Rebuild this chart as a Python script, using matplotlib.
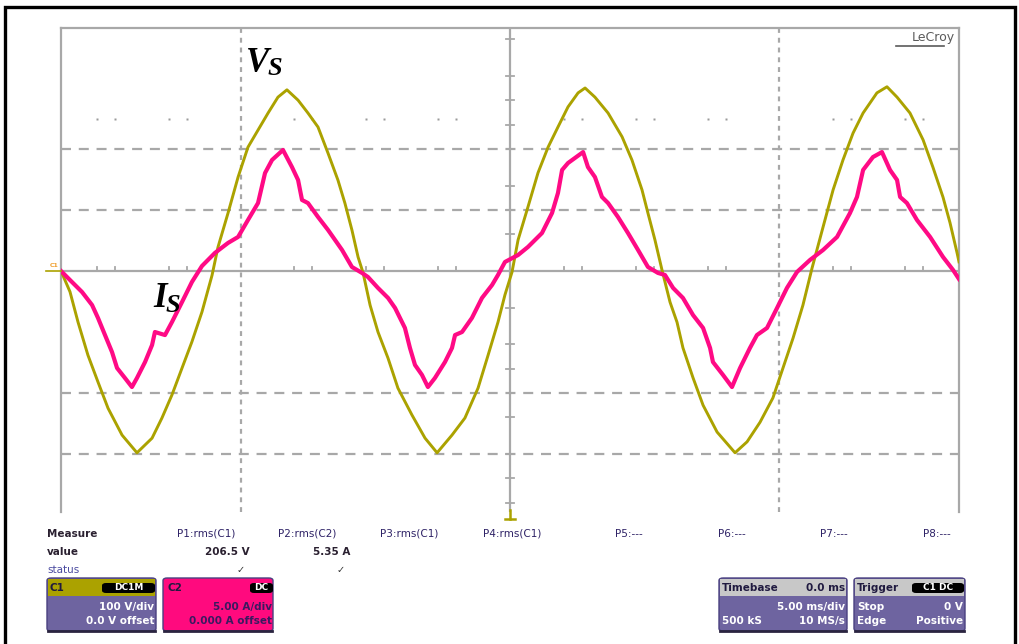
import matplotlib
matplotlib.use("Agg")
import matplotlib.pyplot as plt
from matplotlib.patches import Rectangle, FancyBboxPatch
from matplotlib.lines import Line2D

W, H = 1019, 644

# ---------------- scope settings ----------------
volts_per_div = 100.0
amps_per_div = 5.0
ms_per_div = 5.0

# ---------------- C1 : source voltage Vs ----------------
vs_time_ms = [0.0, 0.50, 0.95, 1.50, 2.06, 2.62, 3.40, 4.23, 5.07, 5.62, 6.18, 6.74, 7.29, 7.85,
              8.41, 8.74, 9.30, 9.86, 10.41, 10.97, 11.53, 12.08, 12.58, 13.20, 13.75, 14.31,
              14.87, 15.42, 15.81, 16.20, 16.54, 16.82, 17.21, 17.65, 18.21, 18.76, 19.54,
              20.27, 20.94, 21.77, 22.49, 23.22, 23.78, 24.33, 24.72, 25.11, 25.45, 26.00,
              26.56, 27.12, 27.67, 28.23, 28.79, 29.18, 29.73, 30.46, 31.24, 31.79, 32.35,
              32.68, 33.07, 33.46, 33.91, 34.30, 34.63, 35.19, 35.75, 36.53, 37.53, 38.20,
              38.92, 39.64, 40.20, 40.76, 41.31, 41.82, 42.43, 42.99, 43.54, 44.10, 44.66,
              45.43, 45.99, 46.55, 47.27, 48.00, 48.55, 49.11, 49.50, 49.89, 50.0]
vs_volts = [0, -34, -84, -138, -182, -225, -269, -298, -274, -241, -203, -159, -116, -67,
            -7, 39, 95, 154, 203, 231, 259, 285, 297, 280, 259, 236,
            193, 149, 111, 67, 23, -3, -56, -100, -143, -192, -236,
            -274, -298, -269, -241, -192, -138, -84, -39, -2, 51, 105,
            161, 203, 236, 269, 292, 300, 285, 259, 220, 182, 133,
            95, 51, 2, -51, -84, -126, -175, -220, -264, -298, -280,
            -248, -208, -159, -110, -56, 5, 72, 133, 182, 226, 259,
            292, 302, 285, 259, 215, 170, 121, 79, 30, 15]

# ---------------- C2 : source current Is ----------------
is_time_ms = [0.0, 0.61, 1.17, 1.73, 2.06, 2.45, 2.84, 3.12, 3.56, 3.95, 4.23, 4.68, 5.07, 5.23,
              5.79, 6.18, 6.74, 7.29, 7.85, 8.57, 9.30, 9.86, 10.41, 10.97, 11.36, 11.75,
              12.36, 12.86, 13.20, 13.42, 13.75, 14.31, 14.87, 15.65, 16.20, 16.76, 17.09,
              17.65, 18.21, 18.60, 19.15, 19.43, 19.71, 20.10, 20.43, 20.82, 21.38, 21.77,
              21.94, 22.33, 22.88, 23.44, 24.00, 24.33, 24.72, 25.45, 26.00, 26.78, 27.34,
              27.67, 27.90, 28.23, 29.07, 29.34, 29.73, 30.12, 30.46, 31.01, 31.57, 32.13,
              32.68, 33.24, 33.63, 34.08, 34.63, 35.19, 35.75, 36.14, 36.30, 36.86, 37.36,
              37.81, 38.36, 38.75, 39.31, 39.87, 40.42, 40.98, 41.70, 42.43, 43.21, 43.93,
              44.32, 44.66, 45.21, 45.71, 46.16, 46.55, 46.72, 47.10, 47.66, 48.39, 49.11,
              49.67, 50.0]
is_amps = [0.0, -0.90, -1.72, -2.79, -3.85, -5.25, -6.64, -7.95, -8.77, -9.51, -8.77, -7.46, -6.07, -5.00,
           -5.25, -4.18, -2.54, -0.90, 0.41, 1.48, 2.30, 2.79, 4.18, 5.57, 8.03, 9.10,
           9.92, 8.52, 7.46, 5.82, 5.57, 4.43, 3.36, 1.72, 0.33, -0.16, -0.49,
           -1.39, -2.21, -3.03, -4.67, -6.31, -7.70, -8.52, -9.51, -8.77, -7.46, -6.31,
           -5.25, -5.00, -3.85, -2.21, -1.15, -0.33, 0.74, 1.31, 1.97, 3.11, 4.75,
           6.39, 8.28, 8.85, 9.75, 8.52, 7.70, 6.07, 5.57, 4.43, 3.11, 1.72,
           0.33, -0.16, -0.33, -1.39, -2.21, -3.61, -4.67, -6.31, -7.46, -8.52, -9.51,
           -7.95, -6.31, -5.25, -4.67, -3.03, -1.39, -0.08, 0.90, 1.72, 2.79, 4.75,
           6.07, 8.28, 9.34, 9.75, 8.28, 7.46, 6.07, 5.57, 4.18, 2.79, 1.15,
           0.08, -0.66]

# ---------------- measurement table ----------------
measure_headers = ["P1:rms(C1)", "P2:rms(C2)", "P3:rms(C1)", "P4:rms(C1)",
                   "P5:---", "P6:---", "P7:---", "P8:---"]
measure_values = ["206.5 V", "5.35 A", "", "", "", "", "", ""]
measure_status = ["\u2713", "\u2713", "", "", "", "", "", ""]

# grid minor marks (in divisions) as they appear on the screen
hmark_x = [0.4, 0.6, 1.2, 1.4, 2.6, 2.8, 3.4, 3.6, 4.2, 4.4,
           5.6, 5.8, 6.4, 6.6, 7.2, 7.4, 8.6, 8.8, 9.4, 9.6]
vmark_y = [0.6, 1.0, 1.4, 2.4, 2.8, 3.2, 3.8,
           -0.6, -1.2, -1.6, -2.4, -3.0, -3.4, -3.8]

OLIVE = "#ABA200"
MAGENTA = "#FF0A85"
GRID = "#A8A8A8"
PURPLE = "#6E64A0"
STRIP = "#C8C8C8"


def fx(x):
    return x / W


def fy(y):
    return 1 - y / H


fig = plt.figure(figsize=(W / 100, H / 100), dpi=100)
fig.patch.set_facecolor("white")

# outer black frame
fig.patches.append(Rectangle((fx(5), fy(652)), fx(1015) - fx(5), fy(7) - fy(652),
                             transform=fig.transFigure, fill=False, edgecolor="black",
                             lw=2.4, zorder=10))

# scope grid axes (in divisions)
y_top = (271 - 28) / 61.0
y_bot = -(512 - 271) / 61.0
ax = fig.add_axes([fx(61), fy(512), fx(959) - fx(61), fy(28) - fy(512)])
ax.set_xlim(0, 10)
ax.set_ylim(y_bot, y_top)
ax.set_xticks([])
ax.set_yticks([])
for side in ["left", "right", "top"]:
    ax.spines[side].set_color(GRID)
    ax.spines[side].set_linewidth(1.6)
ax.spines["bottom"].set_visible(False)
ax.patch.set_alpha(0)

# centre lines
ax.axhline(0, color=GRID, lw=1.6, zorder=1)
ax.axvline(5, color=GRID, lw=1.6, zorder=1)
# dashed horizontal
for yy in [2, 1, -2, -3]:
    ax.axhline(yy, color=GRID, lw=1.6, ls=(0, (4.5, 3.5)), zorder=1)
# dashed vertical
for xx in [2, 8]:
    ax.axvline(xx, color=GRID, lw=1.6, ls=(0, (2.2, 2.2)), zorder=1)
# dotted row
ax.plot(hmark_x, [2.5] * len(hmark_x), ls="none", marker="s", ms=2.0, color="#9a9a9a",
        mec="none", zorder=1)
# ticks on centre lines
for xx in hmark_x:
    ax.plot([xx, xx], [0, 0.06], color=GRID, lw=1.3, zorder=1)
for yy in vmark_y:
    ax.plot([4.96, 5.04], [yy, yy], color=GRID, lw=1.3, zorder=1)

# traces
ax.plot([t / ms_per_div for t in vs_time_ms], [v / volts_per_div for v in vs_volts],
        color=OLIVE, lw=2.1, zorder=3, solid_joinstyle="round")
ax.plot([t / ms_per_div for t in is_time_ms], [i / amps_per_div for i in is_amps],
        color=MAGENTA, lw=3.0, zorder=4, solid_joinstyle="round")

# LeCroy logo
fig.text(fx(955), fy(38), "LeCroy", fontsize=9, color="#5a5a5a", ha="right", va="center",
         family="DejaVu Sans")
fig.add_artist(Line2D([fx(896), fx(944)], [fy(46), fy(46)], transform=fig.transFigure,
                      color="#5a5a5a", lw=1.2))

# channel marker at left of centre line
fig.text(fx(54), fy(265), "C1", fontsize=4.5, color="#F0A030", ha="center", va="center",
         weight="bold")
fig.add_artist(Line2D([fx(46), fx(61)], [fy(271), fy(271)], transform=fig.transFigure,
                      color=OLIVE, lw=1.2))
# trigger position marker
fig.add_artist(Line2D([fx(510), fx(510)], [fy(510), fy(519)], transform=fig.transFigure,
                      color=OLIVE, lw=1.8))
fig.add_artist(Line2D([fx(505), fx(515)], [fy(519), fy(519)], transform=fig.transFigure,
                      color=OLIVE, lw=1.8))

# trace labels
serif = "Liberation Serif"
fig.text(fx(246), fy(72), "V", fontsize=25, style="italic", weight="bold", family=serif,
         color="black", va="baseline")
fig.text(fx(268), fy(75), "S", fontsize=19, style="italic", weight="bold", family=serif,
         color="black", va="baseline")
fig.text(fx(153), fy(307), "I", fontsize=25, style="italic", weight="bold", family=serif,
         color="black", va="baseline")
fig.text(fx(166), fy(312), "S", fontsize=19, style="italic", weight="bold", family=serif,
         color="black", va="baseline")

# measurement table
HDR = "#2e2266"
fig.text(fx(47), fy(534), "Measure", fontsize=7.5, weight="bold", color="#2a2030", va="center")
fig.text(fx(47), fy(552), "value", fontsize=7.5, weight="bold", color="#2a2030", va="center")
fig.text(fx(47), fy(570), "status", fontsize=7.5, color="#4a4aa0", va="center")
hdr_x = [177, 278, 380, 483, 615, 718, 820, 923]
col_right = [250, 350, 452, 556, 660, 762, 864, 965]
for k, h in enumerate(measure_headers):
    fig.text(fx(hdr_x[k]), fy(534), h, fontsize=7.5, color=HDR, va="center")
    if measure_values[k]:
        fig.text(fx(col_right[k]), fy(552), measure_values[k], fontsize=7.5, weight="bold",
                 color="#2a2030", ha="right", va="center")
    if measure_status[k]:
        fig.text(fx(col_right[k] - 5), fy(570), measure_status[k], fontsize=7, color="#333333",
                 ha="right", va="center", family="DejaVu Sans")


def box(x0, x1, y0, y1, body, strip=None, strip_h=17):
    fig.patches.append(FancyBboxPatch((fx(x0), fy(y1)), fx(x1) - fx(x0), fy(y0) - fy(y1),
                                      boxstyle="round,pad=0,rounding_size=0.004",
                                      transform=fig.transFigure, facecolor=body,
                                      edgecolor="#4a4080", lw=1.0, zorder=5))
    if strip is not None:
        fig.patches.append(Rectangle((fx(x0 + 1), fy(y0 + strip_h)), fx(x1 - 1) - fx(x0 + 1),
                                     fy(y0 + 1) - fy(y0 + strip_h), transform=fig.transFigure,
                                     facecolor=strip, edgecolor="none", zorder=6))
    fig.add_artist(Line2D([fx(x0 + 1), fx(x1 - 1)], [fy(y1), fy(y1)], transform=fig.transFigure,
                          color="#2a2440", lw=2.0, zorder=7))


def label(x0, x1, yc, text, fs=6.5):
    fig.patches.append(FancyBboxPatch((fx(x0), fy(yc + 5)), fx(x1) - fx(x0), fy(yc - 5) - fy(yc + 5),
                                      boxstyle="round,pad=0,rounding_size=0.004",
                                      transform=fig.transFigure, facecolor="black",
                                      edgecolor="none", zorder=8))
    fig.text(fx((x0 + x1) / 2), fy(yc), text, fontsize=fs, color="white", weight="bold",
             ha="center", va="center", zorder=9)


txt_kw = dict(fontsize=7.5, weight="bold", va="center", zorder=9)

# C1 box
box(47, 156, 578, 631, PURPLE, strip=OLIVE, strip_h=18)
fig.text(fx(50), fy(588), "C1", color="#201a40", **txt_kw)
label(102, 155, 588, "DC1M")
fig.text(fx(154), fy(607), "100 V/div", color="white", ha="right", **txt_kw)
fig.text(fx(154), fy(621), "0.0 V offset", color="white", ha="right", **txt_kw)

# C2 box
box(163, 273, 578, 631, "#FF0A7E")
fig.text(fx(167), fy(588), "C2", color="#201a40", **txt_kw)
label(250, 273, 588, "DC")
fig.text(fx(272), fy(607), "5.00 A/div", color="#3a1a60", ha="right", **txt_kw)
fig.text(fx(272), fy(621), "0.000 A offset", color="#3a1a60", ha="right", **txt_kw)

# Timebase box
box(719, 847, 578, 631, PURPLE, strip=STRIP, strip_h=18)
fig.text(fx(722), fy(588), "Timebase", color="#201a40", **txt_kw)
fig.text(fx(845), fy(588), "0.0 ms", color="#201a40", ha="right", **txt_kw)
fig.text(fx(845), fy(607), "5.00 ms/div", color="white", ha="right", **txt_kw)
fig.text(fx(722), fy(621), "500 kS", color="white", **txt_kw)
fig.text(fx(845), fy(621), "10 MS/s", color="white", ha="right", **txt_kw)

# Trigger box
box(854, 965, 578, 631, PURPLE, strip=STRIP, strip_h=18)
fig.text(fx(857), fy(588), "Trigger", color="#201a40", **txt_kw)
label(912, 964, 588, "C1 DC")
fig.text(fx(857), fy(607), "Stop", color="white", **txt_kw)
fig.text(fx(963), fy(607), "0 V", color="white", ha="right", **txt_kw)
fig.text(fx(857), fy(621), "Edge", color="white", **txt_kw)
fig.text(fx(963), fy(621), "Positive", color="white", ha="right", **txt_kw)

fig.savefig("out.png", dpi=100, facecolor="white")
